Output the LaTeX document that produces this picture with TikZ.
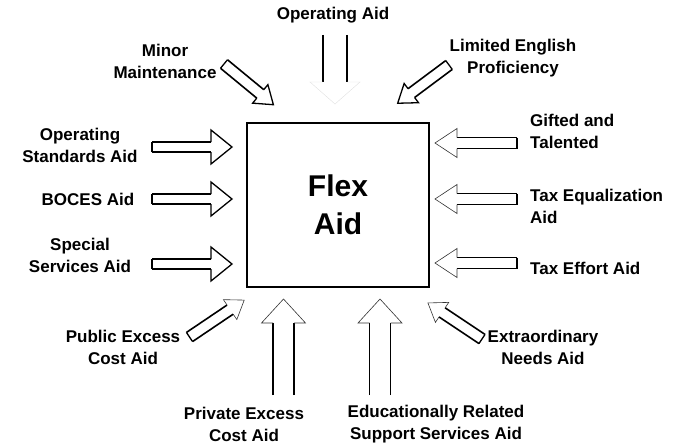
\documentclass[tikz,border=0pt]{standalone}
\usepackage{fontspec}
\setmainfont{Liberation Sans}
\usepackage{tikz}
\usetikzlibrary{positioning}
\definecolor{inkblack}{RGB}{0,0,0}
\tikzset{
  lbl/.style  ={font=\fontsize{17}{22}\selectfont\bfseries, align=center, inner sep=0pt},
  lblr/.style ={lbl, align=left, anchor=west},
  core/.style ={rectangle, draw=inkblack, line width=2pt, minimum width=182pt, minimum height=164pt,
                font=\fontsize{30}{38}\selectfont\bfseries, align=center},
  shaftline/.style={draw=inkblack, line width=1.6pt},
  headline/.style ={draw=inkblack, line width=1.3pt, line join=miter},
  tailline/.style ={draw=inkblack, line width=1.3pt},
  thin head/.style ={headline/.style={draw=inkblack!80, line width=0.6pt}},
  faint head/.style={headline/.style={draw=inkblack!12, line width=0.4pt}},
  open tail/.style ={tailline/.style={draw=none}},
  % hollow block arrow: length / shaft half width / head half width / head length
  pics/fatarrow/.style args={#1/#2/#3/#4}{code={
    \draw[shaftline] (0,#2) -- ({#1-#4},#2) (0,-#2) -- ({#1-#4},-#2);
    \draw[headline] ({#1-#4},#2) -- ({#1-#4},#3) -- (#1,0) -- ({#1-#4},-#3) -- ({#1-#4},-#2);
    \draw[tailline] (0,#2) -- (0,-#2);
  }}
}
\begin{document}
\begin{tikzpicture}[x=1pt,y=-1pt]
\useasboundingbox (0,0) rectangle (682,444);
% Centre box
\node[core] (flex) at (338,205) {Flex\\Aid};
% Left side
\foreach \y in {147,199,264}{
  \pic at (152,\y) {fatarrow=80/5/17/21};
}
\node[lbl] (opstd) at (80,145) {Operating\\Standards Aid};
\node[lbl] (boces) at (88,199) {BOCES Aid};
\node[lbl] (special) at (80,255) {Special\\Services Aid};
% Right side
\foreach \y in {143,199,263}{
  \pic[thin head, rotate=180] at (517,\y) {fatarrow=82/5.5/14.5/22};
}
\node[lblr] (gifted) at (530,131) {Gifted and\\Talented};
\node[lblr] (taxeq) at (530,206) {Tax Equalization\\Aid};
\node[lblr] (taxeff) at (530,268) {Tax Effort Aid};
% Top
\pic[faint head, open tail, rotate=-90] at (335,35) {fatarrow=69/12/25/22};
\node[lbl] (opaid) at (333,15) {Operating Aid};
\pic[rotate=-39.5] at (224,64) {fatarrow=64/5.5/12/17};
\node[lbl] (minor) at (165,61) {Minor\\Maintenance};
\pic[rotate=-143.3] at (449,65) {fatarrow=64/5.5/12/17};
\node[lbl] (lep) at (513,58) {Limited English\\Proficiency};
% Bottom
\pic[thin head, open tail, rotate=90] at (283.5,395) {fatarrow=96/10.5/22/24};
\pic[thin head, open tail, rotate=90] at (380,395) {fatarrow=96/10.5/22/24};
\node[lbl] (privx) at (244,424) {Private Excess\\Cost Aid};
\node[lbl] (edrel) at (436,424) {Educationally Related\\Support Services Aid};
\pic[thin head, rotate=34] at (189.5,337) {fatarrow=66/5.5/12/17};
\node[lbl] (pubx) at (123,347) {Public Excess\\Cost Aid};
\pic[thin head, rotate=146.3] at (482,339) {fatarrow=65/5.5/12/17};
\node[lbl] (extra) at (543,347) {Extraordinary\\Needs Aid};
\end{tikzpicture}
\end{document}
